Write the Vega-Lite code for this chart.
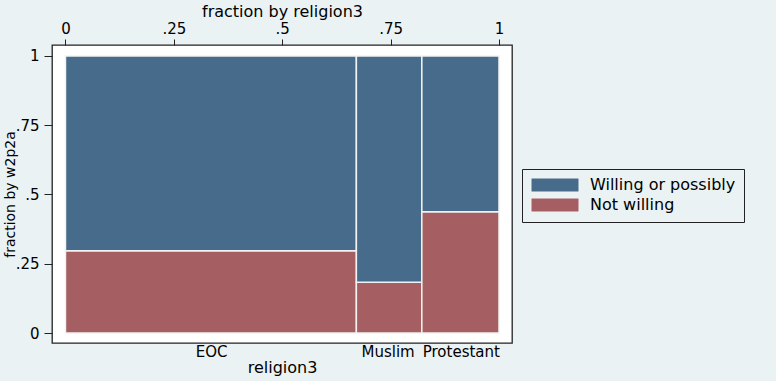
{
  "$schema": "https://vega.github.io/schema/vega-lite/v6.json",
  "autosize": "none",
  "width": 460,
  "height": 298,
  "padding": {"left": 52, "top": 45, "right": 264, "bottom": 38},
  "background": "#EAF2F3",
  "config": {
    "view": {"fill": "white", "stroke": "#222222", "strokeWidth": 1.3},
    "axis": {
      "labelFont": "DejaVu Sans",
      "titleFont": "DejaVu Sans",
      "titleFontWeight": "normal",
      "labelColor": "#000000",
      "titleColor": "#000000",
      "tickColor": "#222222",
      "grid": false,
      "domain": false
    },
    "legend": {"labelFont": "DejaVu Sans", "labelColor": "#000000"}
  },
  "resolve": {"axis": {"x": "independent"}},
  "layer": [
    {
      "data": {
        "values": [
          {"religion3": "EOC", "response": "Not willing", "x0": 0, "x1": 0.671, "y0": 0, "y1": 0.297},
          {"religion3": "EOC", "response": "Willing or possibly willing", "x0": 0, "x1": 0.671, "y0": 0.297, "y1": 1},
          {"religion3": "Muslim", "response": "Not willing", "x0": 0.671, "x1": 0.822, "y0": 0, "y1": 0.183},
          {"religion3": "Muslim", "response": "Willing or possibly willing", "x0": 0.671, "x1": 0.822, "y0": 0.183, "y1": 1},
          {"religion3": "Protestant", "response": "Not willing", "x0": 0.822, "x1": 1, "y0": 0, "y1": 0.438},
          {"religion3": "Protestant", "response": "Willing or possibly willing", "x0": 0.822, "x1": 1, "y0": 0.438, "y1": 1}
        ]
      },
      "mark": {"type": "rect", "stroke": "#F2F2F2", "strokeWidth": 1.5, "opacity": 1},
      "encoding": {
        "x": {
          "field": "x0", "type": "quantitative",
          "scale": {"domain": [-0.0311, 1.03], "nice": false, "zero": false},
          "axis": {
            "orient": "top", "title": "fraction by religion3",
            "values": [0, 0.25, 0.5, 0.75, 1],
            "labelExpr": "datum.value==0?'0':datum.value==1?'1':replace(toString(datum.value),'0.','.')",
            "tickSize": 6, "labelPadding": 3, "labelFontSize": 15, "titleFontSize": 16, "titlePadding": 2,
            "labelFlush": false
          }
        },
        "x2": {"field": "x1"},
        "y": {
          "field": "y0", "type": "quantitative",
          "scale": {"domain": [-0.0361, 1.0397], "nice": false, "zero": false},
          "axis": {
            "title": "fraction by w2p2a",
            "values": [0, 0.25, 0.5, 0.75, 1],
            "labelExpr": "datum.value==0?'0':datum.value==1?'1':replace(toString(datum.value),'0.','.')",
            "tickSize": 8, "labelPadding": 5, "labelFontSize": 15, "titleFontSize": 14,
            "titleX": -35, "titleY": 149, "labelFlush": false
          }
        },
        "y2": {"field": "y1"},
        "color": {
          "field": "response", "type": "nominal",
          "scale": {"domain": ["Willing or possibly willing", "Not willing"], "range": ["#476C8B", "#A55E61"]},
          "legend": {
            "title": null,
            "orient": "none", "legendX": 470, "legendY": 124,
            "padding": 8,
            "strokeColor": "#222222",
            "fillColor": "#EAF2F3",
            "symbolType": "M-1,-1H5.857V1H-1Z",
            "symbolSize": 196,
            "symbolStrokeColor": "#F2F2F2",
            "symbolStrokeWidth": 1,
            "symbolOpacity": 1,
            "labelFontSize": 16,
            "labelOffset": 44,
            "rowPadding": 2,
            "labelLimit": 150,
            "encode": {"labels": {"update": {"ellipsis": {"value": "\u200b"}}}}
          }
        }
      }
    },
    {
      "data": {
        "values": [
          {"religion3": "EOC", "mid": 0.336},
          {"religion3": "Muslim", "mid": 0.743},
          {"religion3": "Protestant", "mid": 0.912}
        ]
      },
      "mark": {"type": "point", "opacity": 0},
      "encoding": {
        "x": {
          "field": "mid", "type": "quantitative",
          "axis": {
            "orient": "bottom", "title": "religion3",
            "values": [0.336, 0.743, 0.912],
            "labelExpr": "datum.value < 0.5 ? 'EOC' : datum.value < 0.8 ? 'Muslim' : 'Protestant'",
            "ticks": false, "tickSize": 0, "labelPadding": 1, "labelFontSize": 15, "titleFontSize": 16,
            "titlePadding": 0, "labelOverlap": false, "labelFlush": false
          }
        }
      }
    }
  ]
}
